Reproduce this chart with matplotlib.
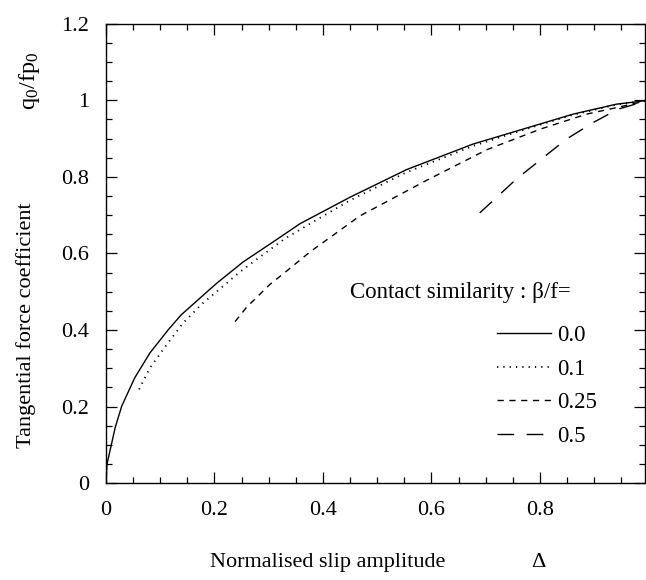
import matplotlib
matplotlib.use("Agg")
import matplotlib.pyplot as plt
from matplotlib.ticker import MultipleLocator, FixedLocator

plt.rcParams['font.family'] = ['Liberation Serif', 'DejaVu Serif']
plt.rcParams['mathtext.fontset'] = 'custom'
plt.rcParams['mathtext.rm'] = 'Liberation Serif'
plt.rcParams['mathtext.it'] = 'Liberation Serif'

# ===============================
# data
# ===============================
delta_00 = [0.0, 0.002, 0.017, 0.029, 0.053, 0.081, 0.115, 0.139, 0.173, 0.204, 0.253, 0.308,
            0.358, 0.45, 0.554, 0.677, 0.788, 0.861, 0.941, 1.0]
q_00 = [0.0, 0.05, 0.145, 0.201, 0.275, 0.34, 0.401, 0.44, 0.483, 0.522, 0.578, 0.63,
        0.678, 0.747, 0.819, 0.886, 0.933, 0.964, 0.99, 1.0]

delta_01 = [0.061, 0.081, 0.112, 0.142, 0.176, 0.213, 0.247, 0.284, 0.33, 0.391, 0.45,
            0.554, 0.677, 0.788, 0.861, 0.941, 1.0]
q_01 = [0.245, 0.301, 0.362, 0.418, 0.467, 0.511, 0.552, 0.591, 0.639, 0.69, 0.739,
        0.812, 0.881, 0.931, 0.962, 0.989, 1.0]

delta_025 = [0.238, 0.259, 0.302, 0.333, 0.376, 0.468, 0.591, 0.702, 0.801, 0.886, 0.941, 1.0]
q_025 = [0.422, 0.459, 0.519, 0.554, 0.604, 0.698, 0.791, 0.871, 0.925, 0.964, 0.981, 1.0]

delta_05 = [0.689, 0.757, 0.849, 0.898, 0.944, 1.0]
q_05 = [0.706, 0.795, 0.899, 0.942, 0.977, 1.0]

labels = ["0.0", "0.1", "0.25", "0.5"]
x_ticks = [0, 0.2, 0.4, 0.6, 0.8]
x_tick_labels = ["0", "0.2", "0.4", "0.6", "0.8"]
y_ticks = [0, 0.2, 0.4, 0.6, 0.8, 1.0, 1.2]
y_tick_labels = ["0", "0.2", "0.4", "0.6", "0.8", "1", "1.2"]

FS = 16.5

fig = plt.figure(figsize=(6.46, 5.8), dpi=100)
ax = fig.add_axes([0.164, 0.167, 0.834, 0.792])

ax.plot(delta_00, q_00, color="black", lw=1.0, ls="-", label=labels[0])
ax.plot(delta_01, q_01, color="black", lw=1.3, ls=(0, (0.7, 2.8)), label=labels[1])
ax.plot(delta_025, q_025, color="black", lw=1.0, ls=(0, (4.5, 4)), label=labels[2])
ax.plot(delta_05, q_05, color="black", lw=1.0, ls=(0, (12, 9)), label=labels[3])

ax.set_xlim(0, 0.993)
ax.set_ylim(0, 1.2)

ax.xaxis.set_major_locator(FixedLocator(x_ticks))
ax.set_xticklabels(x_tick_labels)
ax.xaxis.set_minor_locator(MultipleLocator(0.05))
ax.yaxis.set_major_locator(FixedLocator(y_ticks))
ax.set_yticklabels(y_tick_labels)
ax.yaxis.set_minor_locator(MultipleLocator(0.05))

ax.tick_params(which="both", direction="in", top=True, right=True, labelsize=16, width=0.9)
ax.tick_params(which="major", length=8)
ax.tick_params(which="minor", length=4)
ax.tick_params(axis="x", pad=13)
ax.tick_params(axis="y", pad=12)
for s in ax.spines.values():
    s.set_linewidth(1.0)

# 凡例
ax.text(0.45, 0.497, "Contact similarity : \u03b2/f=", fontsize=FS, ha="left", va="center")
ax.legend(loc="upper left", bbox_to_anchor=(0.726, 0.345), frameon=False, fontsize=FS,
          handlelength=2.36, handletextpad=0.26, labelspacing=0.56, borderpad=0, borderaxespad=0)

# 軸ラベル
fig.text(0.507, 0.03, "Normalised slip amplitude", fontsize=16, ha="center", va="center")
fig.text(0.833, 0.03, "\u0394", fontsize=16, ha="center", va="center")
fig.text(0.04, 0.44, "Tangential force coefficient", fontsize=16, rotation=90, ha="center", va="center")
fig.text(0.045, 0.86, r"$\mathregular{q_0/fp_0}$", fontsize=17.5, rotation=90, ha="center", va="center")

fig.savefig("out.png", dpi=100)
